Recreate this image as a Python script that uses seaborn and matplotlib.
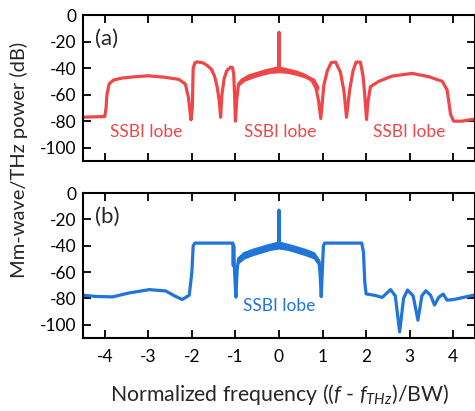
import numpy as np
import matplotlib
matplotlib.use("Agg")
import matplotlib.pyplot as plt
import seaborn as sns

# --- (a) spectrum (x in BW units, y in dB)
freq_a = [-4.5, -4.0, -3.97, -3.95, -3.9, -3.8, -3.6, -3.3, -3.0, -2.6, -2.3, -2.15,
          -2.08, -2.02, -1.99, -1.97, -1.93, -1.88, -1.75, -1.65, -1.55, -1.48, -1.42,
          -1.37, -1.34, -1.31, -1.26, -1.2, -1.12, -1.07, -1.04, -1.02, -1.0, -0.97,
          -0.93, -0.85, -0.7, -0.5, -0.3, -0.1, -0.01, 0.0, 0.01, 0.15, 0.4, 0.6,
          0.75, 0.85, 0.91, 0.96, 1.03, 1.11, 1.2, 1.3, 1.41, 1.49, 1.55, 1.62, 1.7,
          1.77, 1.87, 1.93, 1.97, 2.01, 2.04, 2.1, 2.29, 2.6, 3.06, 3.44, 3.75, 3.86,
          3.94, 4.01, 4.2, 4.43, 4.5]
power_a = [-77, -76.5, -70, -60, -52, -49, -47.5, -46.5, -45.8, -47, -48.5, -52,
           -62, -79, -70, -40, -36, -35.3, -36, -38, -41, -46, -54,
           -65, -77, -60, -48, -42, -39.5, -39.5, -44, -60, -80, -64,
           -52, -49, -46, -44, -42, -40.5, -40, -13, -40, -41, -43, -45.5,
           -49, -55, -65, -78, -53, -42, -35.8, -35.5, -43, -57, -77, -57, -42,
           -35.5, -35.5, -46, -61, -78.7, -66, -54, -50, -46, -44, -46.5, -50, -56.5,
           -75, -80, -80, -78.7, -78.5]

# noisy band around the central lobe of (a)
band_x_a = [-0.93, -0.8, -0.6, -0.4, -0.2, 0.0, 0.2, 0.4, 0.6, 0.8, 0.9]
band_hi_a = [-51, -47.5, -45, -43, -41, -40, -41, -43, -45, -48, -54]
band_lo_a = [-53, -49.5, -47, -45, -43.5, -43, -43.5, -45, -47, -50.5, -56]

# --- (b) spectrum
freq_b = [-4.5, -4.2, -3.82, -3.44, -2.98, -2.6, -2.4, -2.22, -2.06, -2.0, -1.97,
          -1.93, -1.5, -1.1, -1.06, -1.05, -1.04, -1.02, -0.99, -0.96, -0.93, -0.8,
          -0.6, -0.3, -0.01, 0.0, 0.01, 0.3, 0.6, 0.8, 0.92, 0.95, 0.97, 1.0, 1.02,
          1.05, 1.5, 1.9, 1.94, 1.97, 2.0, 2.22, 2.37, 2.56, 2.67, 2.77, 2.86, 2.95,
          3.08, 3.19, 3.28, 3.37, 3.48, 3.57, 3.67, 3.77, 3.86, 4.01, 4.47, 4.5]
power_b = [-77.5, -78.5, -78.8, -75.8, -73.3, -74.3, -78, -80.8, -77.5, -60, -40,
           -38, -38, -38, -38, -55, -40, -60, -79, -58, -50, -46,
           -43.5, -40.5, -38, -13, -38, -40.5, -43.5, -46, -52, -65, -78.6, -55, -40,
           -38, -38, -38, -45, -68, -76.5, -77.8, -79.2, -73.3, -78, -105.4, -80, -73.6,
           -78, -96.5, -78, -74.2, -77.5, -85, -79, -76.7, -81.3, -80.8, -77.5, -77.4]

band_x_b = [-0.93, -0.8, -0.6, -0.4, -0.2, 0.0, 0.2, 0.4, 0.6, 0.8, 0.92]
band_hi_b = [-49, -45.5, -43, -41, -39.5, -38, -39.5, -41, -43, -45.5, -51]
band_lo_b = [-53, -49.5, -47, -45, -43, -42, -43, -45, -47, -49.5, -55]

panel_tags = ["(a)", "(b)"]
lobe_x_a = [-3.05, 0.02, 3.0]
lobe_x_b = [0.0]
xticks = [-4, -3, -2, -1, 0, 1, 2, 3, 4]
yticks = [0, -20, -40, -60, -80, -100]

red = "#ef4748"
blue = "#2174d8"

sns.set_style("ticks")
plt.rcParams["font.family"] = ["Lato", "DejaVu Sans"]
plt.rcParams["axes.unicode_minus"] = False
plt.rcParams["mathtext.fontset"] = "custom"
plt.rcParams["mathtext.it"] = "Lato:italic"
plt.rcParams["mathtext.rm"] = "Lato"

fig = plt.figure(figsize=(4.75, 4.11), dpi=100)
ax_a = fig.add_axes([0.1747, 0.6083, 0.8253, 0.3552])
ax_b = fig.add_axes([0.1747, 0.1776, 0.8253, 0.3528])

ax_a.fill_between(band_x_a, band_lo_a, band_hi_a, color=red, lw=1.0)
ax_b.fill_between(band_x_b, band_lo_b, band_hi_b, color=blue, lw=1.0)
sns.lineplot(x=freq_a, y=power_a, ax=ax_a, color=red, lw=2.3, estimator=None, sort=False)
sns.lineplot(x=freq_b, y=power_b, ax=ax_b, color=blue, lw=2.3, estimator=None, sort=False)

for ax, tag in zip([ax_a, ax_b], panel_tags):
    ax.set_xlim(-4.5, 4.5)
    ax.set_ylim(-110, 0)
    ax.set_xticks(xticks)
    ax.set_yticks(yticks)
    ax.tick_params(direction="in", length=6, width=1.3, top=True, right=True,
                   labelsize=12.5, colors="black", pad=5)
    for s in ax.spines.values():
        s.set_linewidth(1.5)
        s.set_color("black")
    ax.text(-4.22, -18, tag, fontsize=16, va="center", ha="left")

ax_a.set_xticklabels([])
ax_b.set_xticklabels([str(t) for t in xticks])
ax_b.tick_params(axis="x", pad=8)

for x in lobe_x_a:
    ax_a.text(x, -88.5, "SSBI lobe", color=red, fontsize=12.5, ha="center", va="center")
for x in lobe_x_b:
    ax_b.text(x, -85.5, "SSBI lobe", color=blue, fontsize=12.5, ha="center", va="center")

fig.text(0.04, 0.612, "Mm-wave/THz power (dB)", rotation=90, fontsize=14.5,
         ha="center", va="center")
fig.text(0.589, 0.04, r"Normalized frequency (($f$ - $f_{THz}$)/BW)", fontsize=15.3,
         ha="center", va="center")

fig.savefig("out.png", dpi=100)
